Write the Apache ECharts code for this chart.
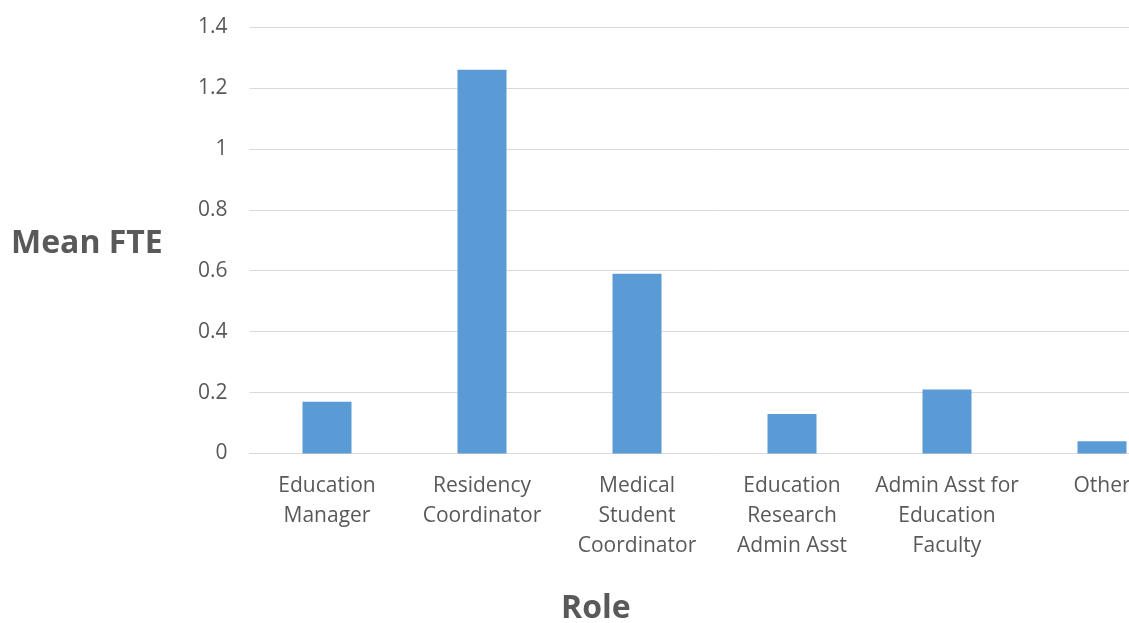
<!DOCTYPE html>
<html>
<head>
<meta charset="utf-8">
<script src="https://cdn.jsdelivr.net/npm/echarts@6/dist/echarts.min.js"></script>
<style>
  html, body { margin: 0; padding: 0; overflow: hidden; background: #fff; }
  #chart { width: 1180px; height: 623px; }
</style>
</head>
<body>
<div id="chart"></div>
<script>
// roles along the x axis
const roles = [
  'Education\nManager',
  'Residency\nCoordinator',
  'Medical\nStudent\nCoordinator',
  'Education\nResearch\nAdmin Asst',
  'Admin Asst for\nEducation\nFaculty',
  'Other'
];
// mean FTE per role
const meanFte = [0.17, 1.26, 0.59, 0.13, 0.21, 0.04];

const yMin = 0;
const yMax = 1.4;
const yStep = 0.2;

const textGrey = '#595959';
const font = '"Open Sans", "Noto Sans", sans-serif';

const myChart = echarts.init(document.getElementById('chart'));

const option = {
  animation: false,
  grid: {
    left: 249.5,
    right: 0.5,
    top: 27,
    bottom: 169.5
  },
  xAxis: {
    type: 'category',
    data: roles,
    axisTick: { show: false },
    axisLine: { lineStyle: { color: '#d9d9d9', width: 1 } },
    axisLabel: {
      interval: 0,
      color: textGrey,
      fontFamily: font,
      fontSize: 21,
      lineHeight: 30,
      margin: 18
    }
  },
  yAxis: {
    type: 'value',
    min: yMin,
    max: yMax,
    interval: yStep,
    axisLine: { show: false },
    axisTick: { show: false },
    axisLabel: {
      color: textGrey,
      fontFamily: font,
      fontSize: 21,
      margin: 22
    },
    splitLine: { lineStyle: { color: '#d9d9d9', width: 1 } }
  },
  series: [
    {
      type: 'bar',
      data: meanFte,
      barWidth: 49,
      itemStyle: { color: '#5b9bd5' }
    }
  ],
  graphic: [
    {
      type: 'text',
      left: 11,
      top: 228,
      style: {
        text: 'Mean FTE',
        fill: textGrey,
        font: 'bold 32px "Open Sans", "Noto Sans", sans-serif'
      }
    },
    {
      type: 'text',
      left: 561,
      top: 593,
      style: {
        text: 'Role',
        fill: textGrey,
        font: 'bold 32px "Open Sans", "Noto Sans", sans-serif'
      }
    }
  ]
};

myChart.setOption(option);
</script>
</body>
</html>
